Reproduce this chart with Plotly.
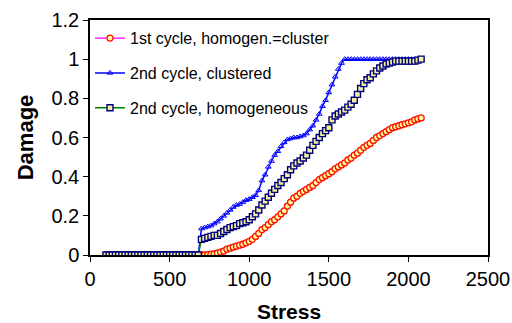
import plotly.graph_objects as go

stress = [100, 120, 140, 160, 180, 200, 220, 240, 260, 280, 300, 320, 340, 360, 380,
          400, 420, 440, 460, 480, 500, 520, 540, 560, 580, 600, 620, 640, 660, 680,
          700, 720, 740, 760, 780, 800, 820, 840, 860, 880, 900, 920, 940, 960, 980,
          1000, 1020, 1040, 1060, 1080, 1100, 1120, 1140, 1160, 1180, 1200, 1220, 1240, 1260, 1280,
          1300, 1320, 1340, 1360, 1380, 1400, 1420, 1440, 1460, 1480, 1500, 1520, 1540, 1560, 1580,
          1600, 1620, 1640, 1660, 1680, 1700, 1720, 1740, 1760, 1780, 1800, 1820, 1840, 1860, 1880,
          1900, 1920, 1940, 1960, 1980, 2000, 2020, 2040, 2060, 2080]

zeros30 = [0.0] * 30

first_cycle = zeros30 + [
    0.0, 0.0, 0.002, 0.004, 0.006, 0.01, 0.015, 0.02, 0.03, 0.035,
    0.04, 0.045, 0.05, 0.055, 0.062, 0.07, 0.08, 0.095, 0.11, 0.13,
    0.14, 0.155, 0.17, 0.18, 0.195, 0.21, 0.225, 0.25, 0.27, 0.29,
    0.30, 0.315, 0.325, 0.335, 0.345, 0.355, 0.37, 0.385, 0.395, 0.405,
    0.415, 0.425, 0.44, 0.45, 0.46, 0.47, 0.485, 0.495, 0.51, 0.52,
    0.535, 0.55, 0.56, 0.57, 0.585, 0.60, 0.61, 0.62, 0.63, 0.64,
    0.65, 0.655, 0.66, 0.665, 0.67, 0.675, 0.68, 0.69, 0.695, 0.70]

second_clustered = zeros30 + [
    0.135, 0.14, 0.145, 0.15, 0.16, 0.17, 0.185, 0.20, 0.215, 0.23,
    0.245, 0.255, 0.26, 0.27, 0.28, 0.285, 0.295, 0.305, 0.33, 0.38,
    0.41, 0.45, 0.48, 0.51, 0.53, 0.555, 0.575, 0.59, 0.595, 0.60,
    0.60, 0.605, 0.61, 0.62, 0.64, 0.66, 0.69, 0.72, 0.76, 0.79,
    0.83, 0.87, 0.91, 0.95, 0.98, 1.0, 1.0, 1.0, 1.0, 1.0,
    1.0, 1.0, 1.0, 1.0, 1.0, 1.0, 1.0, 1.0, 1.0, 1.0,
    1.0, 1.0, 1.0, 1.0, 1.0, 1.0, 1.0, 1.0, 1.0, 1.0]

second_homog = zeros30 + [
    0.08, 0.085, 0.09, 0.095, 0.10, 0.10, 0.11, 0.12, 0.13, 0.14,
    0.145, 0.15, 0.16, 0.165, 0.17, 0.18, 0.195, 0.21, 0.23, 0.255,
    0.275, 0.295, 0.315, 0.335, 0.355, 0.37, 0.39, 0.41, 0.435, 0.455,
    0.47, 0.48, 0.495, 0.51, 0.535, 0.56, 0.58, 0.60, 0.62, 0.635,
    0.65, 0.69, 0.71, 0.72, 0.73, 0.74, 0.755, 0.77, 0.79, 0.82,
    0.85, 0.875, 0.895, 0.905, 0.925, 0.94, 0.955, 0.965, 0.975, 0.98,
    0.985, 0.99, 0.99, 0.99, 0.99, 0.99, 0.99, 0.99, 0.995, 1.0]

names = ["1st cycle, homogen.=cluster", "2nd cycle, clustered", "2nd cycle, homogeneous"]

FONT = "Liberation Sans, Arial, sans-serif"

fig = go.Figure()
fig.add_trace(go.Scatter(
    x=stress, y=first_cycle, name=names[0], mode="lines+markers", legendgroup="a",
    line=dict(color="#ff00ff", width=1.2),
    marker=dict(symbol="circle", size=6, color="#ffffa0", line=dict(color="#ff1000", width=1.3))))
fig.add_trace(go.Scatter(
    x=stress, y=second_clustered, name=names[1], mode="lines+markers", legendgroup="b",
    line=dict(color="#0000ff", width=1.5),
    marker=dict(symbol="triangle-up-open", size=5, color="#0000ff", line=dict(width=1))))
fig.add_trace(go.Scatter(
    x=stress, y=second_homog, name=names[2], mode="lines+markers", legendgroup="c",
    line=dict(color="#008000", width=1.5),
    marker=dict(symbol="square", size=6, color="#f0f0a0", line=dict(color="#000080", width=1.4))))

fig.update_layout(
    width=512, height=323,
    margin=dict(l=90, r=24, t=20, b=68),
    paper_bgcolor="white", plot_bgcolor="white",
    font=dict(family=FONT, color="black"),
    showlegend=True,
    legend=dict(x=0.0, y=0.995, xanchor="left", yanchor="top", bgcolor="rgba(0,0,0,0)",
                font=dict(size=16, family=FONT), tracegroupgap=11, traceorder="grouped"),
    xaxis=dict(range=[0, 2500], tickvals=[0, 500, 1000, 1500, 2000, 2500], automargin=False,
               showgrid=False, zeroline=False, showline=True, linecolor="black", linewidth=1.5,
               mirror=True, ticks="outside", ticklen=5, tickcolor="black",
               tickfont=dict(size=20, family=FONT),
               title=dict(text="<b>Stress</b>", font=dict(size=21, family=FONT), standoff=16)),
    yaxis=dict(range=[0, 1.2], tickvals=[0, 0.2, 0.4, 0.6, 0.8, 1, 1.2], automargin=False,
               ticktext=["0", "0.2", "0.4", "0.6", "0.8", "1", "1.2"],
               showgrid=False, zeroline=False, showline=True, linecolor="black", linewidth=1.5,
               mirror=True, ticks="outside", ticklen=5, tickcolor="black",
               tickfont=dict(size=20, family=FONT),
               title=dict(text="<b>Damage</b>", font=dict(size=22, family=FONT), standoff=12)),
)

fig.write_html("out.html")
